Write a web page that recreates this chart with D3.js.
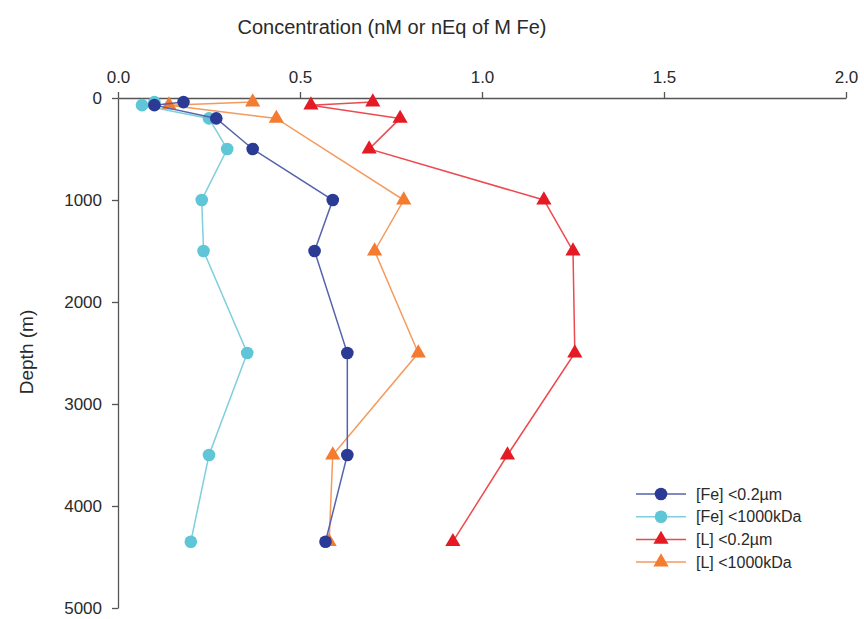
<!DOCTYPE html>
<html>
<head>
<meta charset="utf-8">
<script src="https://cdn.jsdelivr.net/npm/d3@7"></script>
<style>
  body { margin: 0; background: #fff; }
  text { font-family: "Liberation Sans", Arial, sans-serif; fill: #2a2a2a; }
</style>
</head>
<body>
<div id="chart"></div>
<script>
// depth profiles (m) and concentrations (nM or nEq of M Fe)
var depthsFe = [40, 70, 200, 500, 1000, 1500, 2500, 3500, 4350];
var fe02 = [0.18, 0.10, 0.27, 0.37, 0.59, 0.54, 0.63, 0.63, 0.57];
var fe1000 = [0.10, 0.066, 0.25, 0.30, 0.23, 0.235, 0.355, 0.25, 0.20];
var depthsL02 = [40, 70, 200, 500, 1000, 1500, 2500, 3500, 4350];
var l02 = [0.70, 0.53, 0.775, 0.69, 1.17, 1.25, 1.255, 1.07, 0.92];
var depthsL1000 = [40, 70, 200, 1000, 1500, 2500, 3500, 4350];
var l1000 = [0.37, 0.14, 0.435, 0.785, 0.705, 0.825, 0.59, 0.58];

var seriesNames = ["[Fe] <0.2µm", "[Fe] <1000kDa", "[L] <0.2µm", "[L] <1000kDa"];
var xTicks = [0, 0.5, 1.0, 1.5, 2.0];
var yTicks = [0, 1000, 2000, 3000, 4000, 5000];

var series = [
    { name: seriesNames[0], depth: depthsFe, value: fe02, marker: "circle", fill: "#2b3a94", line: "#5563ad" },
    { name: seriesNames[1], depth: depthsFe, value: fe1000, marker: "circle", fill: "#5ec6d6", line: "#7fcfdc" },
    { name: seriesNames[2], depth: depthsL02, value: l02, marker: "triangle", fill: "#e41b24", line: "#ec4a50" },
    { name: seriesNames[3], depth: depthsL1000, value: l1000, marker: "triangle", fill: "#f47b2f", line: "#f59a5c" }
];

var W = 864, H = 619;
var margin = { top: 98, right: 18, bottom: 11, left: 118 };
var width = W - margin.left - margin.right;
var height = H - margin.top - margin.bottom;

var svg = d3.select("#chart").append("svg")
    .attr("width", W).attr("height", H);
var g = svg.append("g")
    .attr("transform", "translate(" + margin.left + "," + margin.top + ")");

var x = d3.scaleLinear().domain([0, 2]).range([0, width]);
var y = d3.scaleLinear().domain([0, 5000]).range([0, height]);

// axes
var xAxis = g.append("g")
    .call(d3.axisTop(x).tickValues(xTicks).tickFormat(d3.format(".1f")).tickSize(6).tickSizeOuter(0));
var yAxis = g.append("g")
    .call(d3.axisLeft(y).tickValues(yTicks).tickFormat(d3.format("d")).tickSize(6).tickSizeOuter(0));

[xAxis, yAxis].forEach(function(a) {
    a.select(".domain").attr("stroke", "#555").attr("stroke-width", 1.3);
    a.selectAll(".tick line").attr("stroke", "#555").attr("stroke-width", 1.3);
    a.selectAll(".tick text").style("font-size", "17px").attr("fill", "#2a2a2a");
});
xAxis.selectAll(".tick text").attr("dy", "-0.35em");
yAxis.selectAll(".tick text").attr("x", -16);

// axis titles
svg.append("text")
    .attr("x", 392).attr("y", 34)
    .attr("text-anchor", "middle")
    .style("font-size", "20px")
    .text("Concentration (nM or nEq of M Fe)");

svg.append("text")
    .attr("transform", "translate(33,352) rotate(-90)")
    .attr("text-anchor", "middle")
    .style("font-size", "19px")
    .text("Depth (m)");

var line = d3.line()
    .x(function(d) { return x(d[0]); })
    .y(function(d) { return y(d[1]); });

var tri = d3.symbol().type(d3.symbolTriangle).size(100);

function drawMarker(sel, s) {
    if (s.marker === "circle") {
        sel.append("circle").attr("r", 6.3).attr("fill", s.fill);
    } else {
        sel.append("path").attr("d", tri).attr("fill", s.fill);
    }
}

// draw order: red, orange, light blue, dark blue on top
[2, 3, 1, 0].forEach(function(i) {
    var s = series[i];
    var pts = s.value.map(function(v, j) { return [v, s.depth[j]]; });
    g.append("path")
        .datum(pts)
        .attr("d", line)
        .attr("fill", "none")
        .attr("stroke", s.line)
        .attr("stroke-width", 1.5);
    g.selectAll(".m" + i)
        .data(pts)
        .enter()
        .append("g")
        .attr("transform", function(d) { return "translate(" + x(d[0]) + "," + y(d[1]) + ")"; })
        .each(function() { drawMarker(d3.select(this), s); });
});

// legend
var legend = svg.append("g").attr("transform", "translate(636,494)");
series.forEach(function(s, i) {
    var row = legend.append("g").attr("transform", "translate(0," + (i * 22.7) + ")");
    row.append("line")
        .attr("x1", 0).attr("x2", 50)
        .attr("stroke", s.line).attr("stroke-width", 1.5);
    var m = row.append("g").attr("transform", "translate(25,0)");
    drawMarker(m, s);
    row.append("text")
        .attr("x", 60).attr("y", 0)
        .attr("dy", "0.36em")
        .style("font-size", "16px")
        .text(s.name);
});
</script>
</body>
</html>
